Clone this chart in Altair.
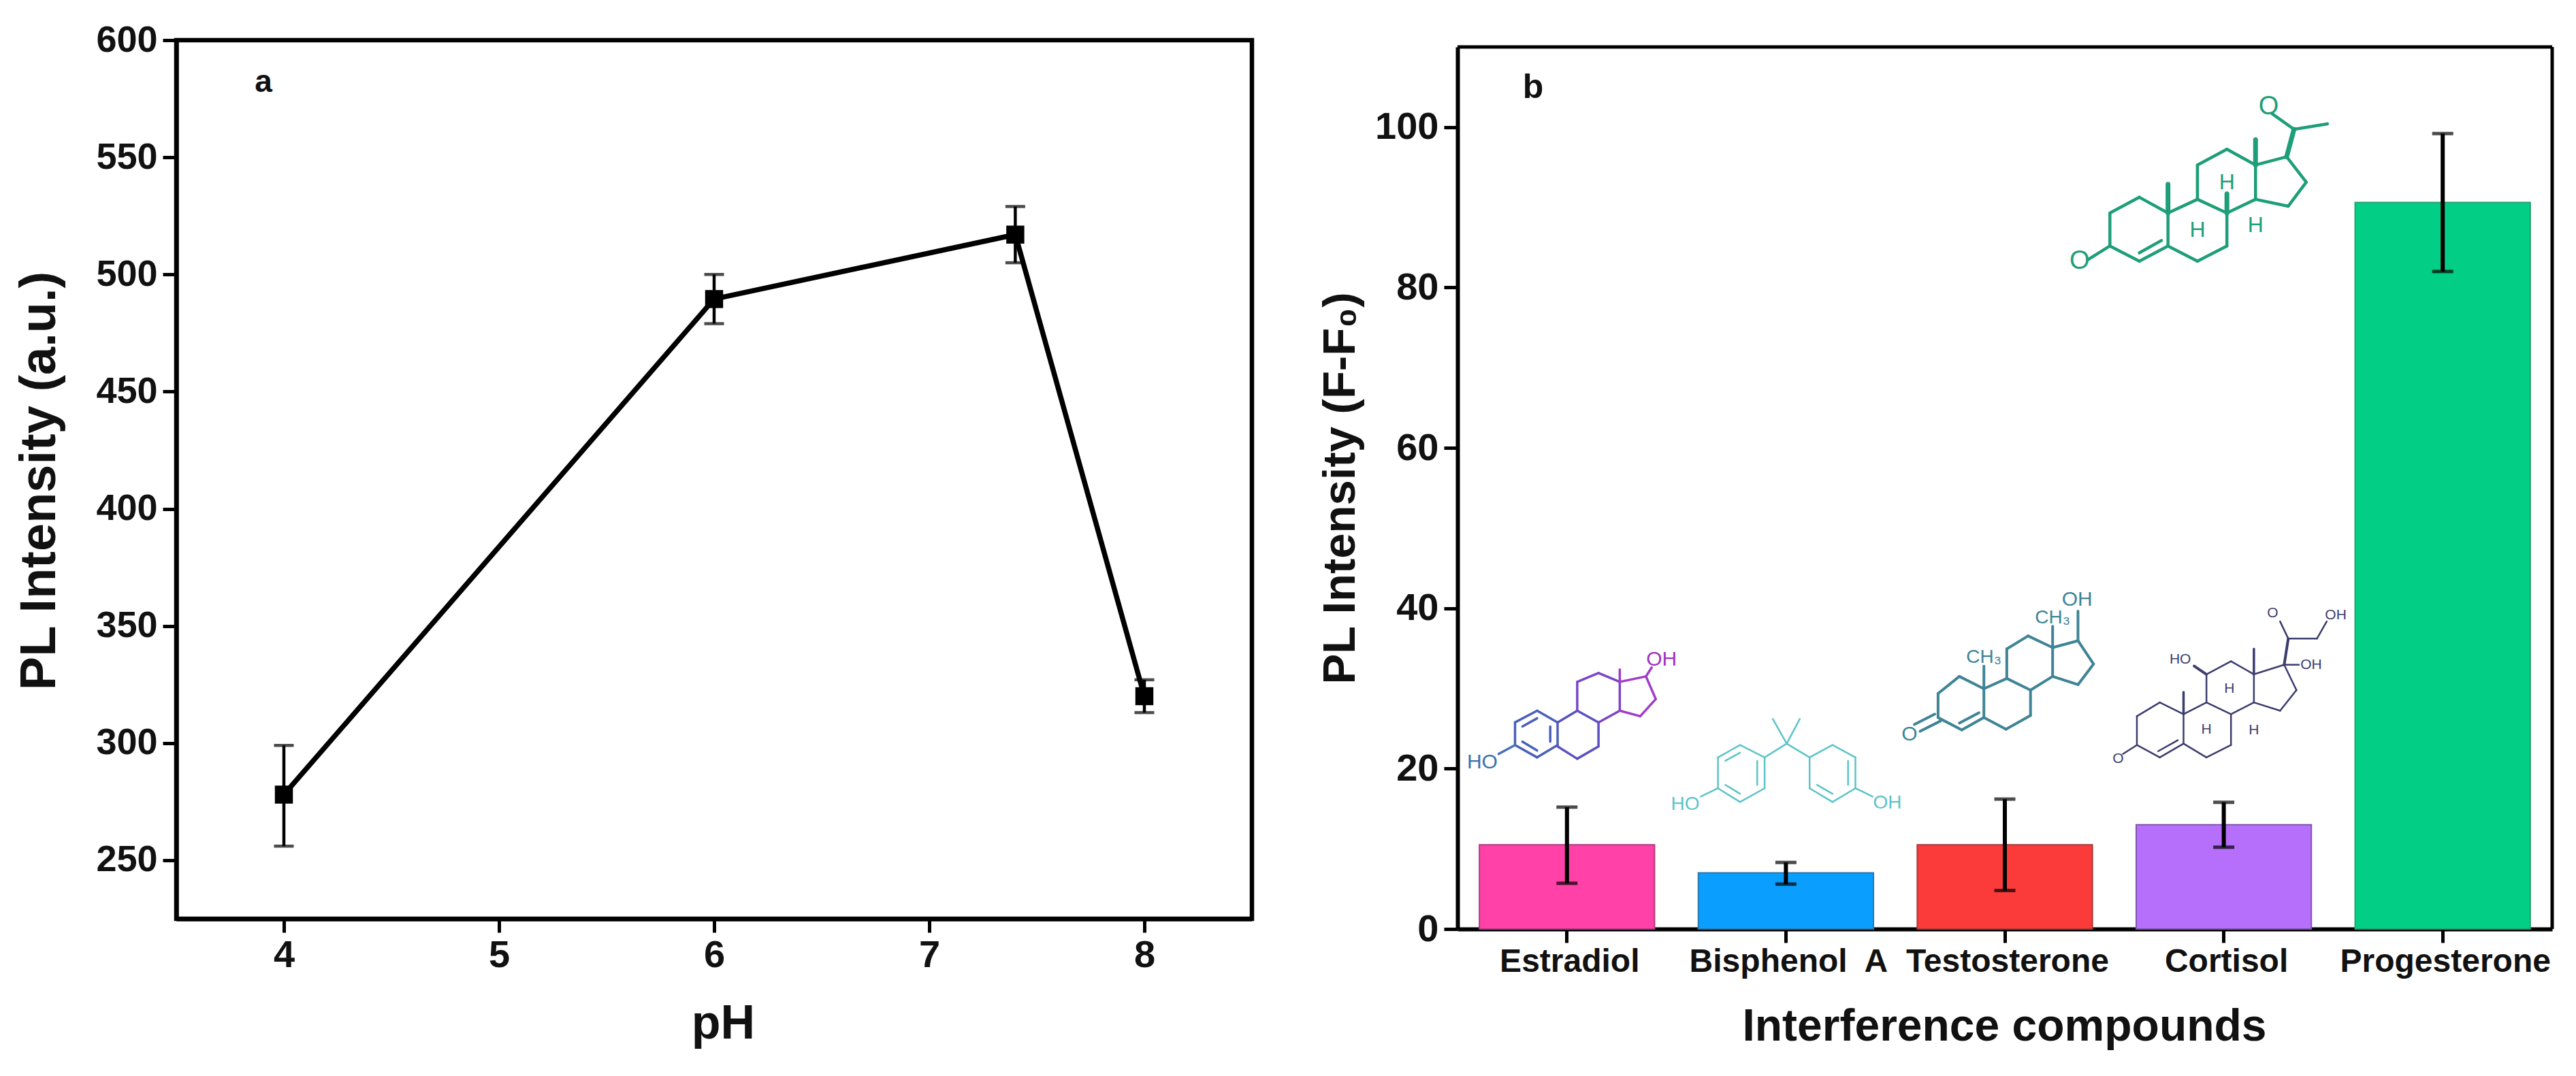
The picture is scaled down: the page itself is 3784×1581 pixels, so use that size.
import altair as alt
import pandas as pd

FONT = "Liberation Sans"

# Panel a
ph = [4, 6, 7.4, 8]
pl = [278, 489.5, 517, 320]
pl_low = [256, 479, 505, 313]
pl_high = [299, 500, 529, 327]

# Panel b
compounds = ["Estradiol", "Bisphenol\u00a0 A", "Testosterone", "Cortisol", "Progesterone"]
intensity = [10.5, 7.0, 10.5, 13.0, 90.6]
int_low = [5.7, 5.6, 4.8, 10.2, 82.0]
int_high = [15.2, 8.3, 16.2, 15.8, 99.2]
bar_colors = ["#FF41A8", "#0A9EFF", "#FB3A3A", "#B56FFB", "#02CF85"]
bar_edges = ["#B03A80", "#2A78B0", "#A83A3A", "#7F56B0", "#20A070"]

# Molecule sketches: polylines in picture units (x, y)
molecules = [
    # Estradiol
    ("#4A60B8", 3.5, [(270,1052),(297,1035),(322,1052),(322,1085),(297,1103),(270,1085),(270,1052)]),
    ("#4A60B8", 3.5, [(279,1058),(297,1046)]),
    ("#4A60B8", 3.5, [(279,1080),(297,1093)]),
    ("#4A60B8", 3.5, [(313,1058),(313,1080)]),
    ("#4A70B8", 3.5, [(270,1085),(250,1098)]),
    ("#5A50C0", 3.5, [(322,1052),(346,1035),(372,1052),(372,1087),(346,1105),(322,1087)]),
    ("#7A45C8", 3.5, [(346,1035),(346,993),(372,980),(398,993),(398,1035),(372,1052)]),
    ("#A03CC8", 3.5, [(398,993),(430,985),(442,1018),(423,1043),(398,1035)]),
    ("#A03CC8", 3.5, [(398,993),(398,975)]),
    ("#A03CC8", 3.5, [(430,985),(437,972)]),
    # Bisphenol A
    ("#5CC4C8", 2.5, [(585,1047),(602,1083),(618,1047)]),
    ("#5CC4C8", 2.5, [(575,1103),(602,1083),(630,1103)]),
    ("#5CC4C8", 2.5, [(575,1103),(575,1148),(545,1168),(518,1148),(518,1103),(545,1085),(575,1103)]),
    ("#5CC4C8", 2.5, [(630,1103),(630,1148),(658,1168),(686,1148),(686,1103),(658,1085),(630,1103)]),
    ("#5CC4C8", 2.5, [(566,1108),(566,1143)]),
    ("#5CC4C8", 2.5, [(527,1108),(545,1096)]),
    ("#5CC4C8", 2.5, [(527,1143),(545,1156)]),
    ("#5CC4C8", 2.5, [(639,1143),(658,1156)]),
    ("#5CC4C8", 2.5, [(677,1108),(677,1143)]),
    ("#5CC4C8", 2.5, [(518,1148),(497,1160)]),
    ("#5CC4C8", 2.5, [(686,1148),(707,1160)]),
    # Testosterone
    ("#3E8496", 4, [(787,1010),(813,985),(843,1003),(843,1045),(816,1063),(787,1045),(787,1010)]),
    ("#3E8496", 4, [(783,1040),(758,1055)]),
    ("#3E8496", 4, [(790,1050),(765,1065)]),
    ("#3E8496", 4, [(813,1053),(837,1038)]),
    ("#3E8496", 4, [(843,1003),(871,988),(900,1005),(900,1042),(870,1062),(843,1045)]),
    ("#3E8496", 4, [(871,988),(871,945),(897,926),(927,943),(927,985),(900,1005)]),
    ("#3E8496", 4, [(927,943),(958,933),(977,967),(958,997),(927,985)]),
    ("#3E8496", 4, [(843,1003),(843,970)]),
    ("#3E8496", 4, [(927,943),(927,912)]),
    ("#3E8496", 4, [(958,933),(958,890)]),
    # Cortisol
    ("#3C3C6E", 2.5, [(1030,1043),(1058,1023),(1087,1040),(1087,1083),(1058,1103),(1030,1085),(1030,1043)]),
    ("#3C3C6E", 2.5, [(1087,1040),(1115,1023),(1145,1040),(1145,1085),(1115,1103),(1087,1083)]),
    ("#3C3C6E", 2.5, [(1115,1023),(1115,982),(1145,963),(1173,982),(1173,1023),(1145,1040)]),
    ("#3C3C6E", 2.5, [(1173,982),(1210,968),(1225,1005),(1205,1035),(1173,1023)]),
    ("#3C3C6E", 2.5, [(1056,1094),(1080,1078)]),
    ("#3C3C6E", 3.5, [(1087,1040),(1087,1008)]),
    ("#3C3C6E", 3.5, [(1173,982),(1173,945)]),
    ("#3C3C6E", 2.5, [(1030,1085),(1013,1098)]),
    ("#3C3C6E", 4, [(1210,968),(1215,930)]),
    ("#3C3C6E", 2.5, [(1215,930),(1205,905)]),
    ("#3C3C6E", 2.5, [(1215,930),(1250,930),(1262,905)]),
    ("#3C3C6E", 2.5, [(1210,968),(1228,968)]),
    ("#3C3C6E", 4, [(1115,982),(1100,970)]),
    # Progesterone
    ("#1E9E78", 4.5, [(997,310),(1033,287),(1068,310),(1068,358),(1033,380),(997,358),(997,310)]),
    ("#1E9E78", 4.5, [(997,358),(970,378)]),
    ("#1E9E78", 4.5, [(1033,368),(1060,350)]),
    ("#1E9E78", 4.5, [(1068,310),(1104,290),(1140,310),(1140,358),(1104,380),(1068,358)]),
    ("#1E9E78", 4.5, [(1104,290),(1104,240),(1140,217),(1175,240),(1175,290),(1140,310)]),
    ("#1E9E78", 4.5, [(1175,240),(1213,228),(1237,265),(1215,300),(1175,290)]),
    ("#1E9E78", 7, [(1068,310),(1068,268)]),
    ("#1E9E78", 7, [(1175,240),(1175,203)]),
    ("#1E9E78", 7, [(1213,228),(1222,188)]),
    ("#1E9E78", 4.5, [(1222,188),(1195,165)]),
    ("#1E9E78", 4.5, [(1222,188),(1263,180)]),
    ("#1E9E78", 7, [(1140,310),(1140,282)]),
]
molecule_labels = [
    ("OH", 449, 960, "#A030C0", 30), ("HO", 230, 1110, "#3B6FB0", 30),
    ("HO", 478, 1172, "#5CC4C8", 28), ("OH", 725, 1170, "#5CC4C8", 28),
    ("CH\u2083", 843, 957, "#3E8496", 28), ("CH\u2083", 927, 900, "#3E8496", 28),
    ("OH", 957, 873, "#3E8496", 30), ("O", 752, 1069, "#3E8496", 30),
    ("O", 1007, 1105, "#3C3C6E", 21), ("HO", 1083, 960, "#3C3C6E", 21),
    ("H", 1143, 1003, "#3C3C6E", 21), ("H", 1115, 1062, "#3C3C6E", 21),
    ("H", 1173, 1063, "#3C3C6E", 21), ("OH", 1243, 968, "#3C3C6E", 21),
    ("O", 1196, 893, "#3C3C6E", 21), ("OH", 1273, 896, "#3C3C6E", 21),
    ("O", 960, 380, "#1E9E78", 38), ("O", 1191, 155, "#1E9E78", 38),
    ("H", 1140, 265, "#1E9E78", 32), ("H", 1104, 335, "#1E9E78", 32),
    ("H", 1175, 328, "#1E9E78", 32),
]

def mx(v):
    return v / 0.832 - 240

def my(v):
    return (1353 - v) * 1.008 / 11.775

seg_rows = []
for color, width, pts in molecules:
    for (x0, y0), (x1, y1) in zip(pts[:-1], pts[1:]):
        seg_rows.append(dict(x=mx(x0), y=my(y0), x2=mx(x1), y2=my(y1), c=color, w=width))
segs = pd.DataFrame(seg_rows)
mol_text = pd.DataFrame([dict(t=t, x=mx(x), y=my(y), c=c, s=s) for t, x, y, c, s in molecule_labels])

# ---------- Panel a
A_W, A_H = 1580, 1291
da = pd.DataFrame(dict(ph=ph, pl=pl, lo=pl_low, hi=pl_high))
xa = alt.X("ph:Q", scale=alt.Scale(domain=[3.5, 8.5], nice=False, zero=False),
           axis=alt.Axis(values=[4, 5, 6, 7, 8], title="pH", format="d", titleX=803, titleY=120,
                         labelFontSize=56, labelPadding=6, tickSize=20, tickWidth=5,
                         domainWidth=6.5, titleFontSize=70))
ya = alt.Y("pl:Q", scale=alt.Scale(domain=[225, 600], nice=False, zero=False),
           axis=alt.Axis(values=list(range(250, 601, 50)), title="PL Intensity (a.u.)",
                         labelFontSize=54, labelPadding=8, tickSize=20, tickWidth=5,
                         domainWidth=6.5, titleFontSize=74, titleX=-163, titleY=647))
base_a = alt.Chart(da)
a_line = base_a.mark_line(color="black", strokeWidth=7.5).encode(x=xa, y=ya)
a_err = base_a.mark_rule(color="black", strokeWidth=4.5).encode(x="ph:Q", y="lo:Q", y2="hi:Q")
a_lo = base_a.mark_tick(color="black", orient="horizontal", size=29, thickness=4.5).encode(x="ph:Q", y="lo:Q")
a_hi = base_a.mark_tick(color="black", orient="horizontal", size=29, thickness=4.5).encode(x="ph:Q", y="hi:Q")
a_pts = base_a.mark_square(color="black", opacity=1, size=700).encode(x="ph:Q", y="pl:Q")
a_lab = alt.Chart(pd.DataFrame(dict(t=["a"], x=[3.905], y=[582]))).mark_text(
    fontSize=46, font=FONT, fontWeight="bold", color="#111").encode(x="x:Q", y="y:Q", text="t:N")
panel_a = alt.layer(a_line, a_err, a_lo, a_hi, a_pts, a_lab).properties(
    width=A_W, height=A_H, view=alt.ViewConfig(stroke="black", strokeWidth=6.5, fill="white"))

# ---------- Panel b
B_W, B_H = 1608, 1306
db = pd.DataFrame(dict(c=compounds, v=intensity, lo=int_low, hi=int_high, fill=bar_colors, edge=bar_edges))
xb = alt.X("c:N", sort=compounds,
           scale=alt.Scale(paddingInner=0.2, paddingOuter=0.1),
           axis=alt.Axis(title="Interference compounds", labelAngle=0, labelFontSize=48,
                         labelPadding=4, labelLimit=500, tickSize=20, tickWidth=5, domainWidth=6,
                         labelOffset=4, titleFontSize=66, titleX=803, titleY=111))
yb = alt.Y("v:Q", scale=alt.Scale(domain=[0, 110], range=[B_H, 10], nice=False),
           axis=alt.Axis(values=list(range(0, 101, 20)), title="PL Intensity (F-F\u2080)",
                         labelFontSize=56, labelPadding=8, tickSize=20, tickWidth=5,
                         domainWidth=6, titleFontSize=67, titleX=-138, titleY=658))
base_b = alt.Chart(db)
bars = base_b.mark_bar(strokeWidth=2).encode(
    x=xb, y=yb,
    fill=alt.Fill("fill:N", scale=None),
    stroke=alt.Stroke("edge:N", scale=None))
b_err = base_b.mark_rule(color="black", strokeWidth=6).encode(
    x=alt.X("c:N", sort=compounds), y="lo:Q", y2="hi:Q")
b_lo = base_b.mark_tick(color="black", orient="horizontal", size=31, thickness=5).encode(
    x=alt.X("c:N", sort=compounds), y="lo:Q")
b_hi = base_b.mark_tick(color="black", orient="horizontal", size=31, thickness=5).encode(
    x=alt.X("c:N", sort=compounds), y="hi:Q")
bar_layer = alt.layer(bars, b_err, b_lo, b_hi)

mx_scale = alt.Scale(domain=[0, B_W], nice=False, zero=False)
frame_top = alt.Chart(pd.DataFrame(dict(y=[110]))).mark_rule(color="black", strokeWidth=5).encode(
    y="y:Q", x=alt.value(0), x2=alt.value(B_W))
frame_right = alt.Chart(pd.DataFrame(dict(y=[0]))).mark_rule(color="black", strokeWidth=5).encode(
    y="y:Q", y2=alt.Y2(datum=110), x=alt.value(B_W))
mol_lines = alt.Chart(segs).mark_rule(strokeCap="round").encode(
    x=alt.X("x:Q", scale=mx_scale, axis=None), x2="x2:Q",
    y="y:Q", y2="y2:Q",
    color=alt.Color("c:N", scale=None),
    strokeWidth=alt.StrokeWidth("w:Q", scale=None))
mol_labels = alt.Chart(mol_text).mark_text(font=FONT).encode(
    x=alt.X("x:Q", scale=mx_scale, axis=None), y="y:Q", text="t:N",
    color=alt.Color("c:N", scale=None),
    size=alt.Size("s:Q", scale=None))
b_lab = alt.Chart(pd.DataFrame(dict(t=["b"], x=[mx(292)], y=[my(128)]))).mark_text(
    fontSize=50, font=FONT, fontWeight="bold", color="#111").encode(
    x=alt.X("x:Q", scale=mx_scale, axis=None), y="y:Q", text="t:N")
deco_layer = alt.layer(frame_top, frame_right, mol_lines, mol_labels, b_lab)

panel_b = alt.layer(bar_layer, deco_layer).resolve_scale(x="independent").properties(
    width=B_W, height=B_H, view=alt.ViewConfig(stroke=None, fill="white"))

chart = alt.hconcat(panel_a, panel_b, spacing=92, padding={"left": 9, "top": 20, "right": 0, "bottom": 0},
                    background="white").configure_axis(
    grid=False, domainColor="black", tickColor="black", labelColor="#111", titleColor="#111",
    labelFont=FONT, titleFont=FONT, labelFontWeight="bold", titleFontWeight="bold",
).configure_view(continuousWidth=400)

chart.save("out.html", embed_options={"renderer": "svg", "actions": False})
